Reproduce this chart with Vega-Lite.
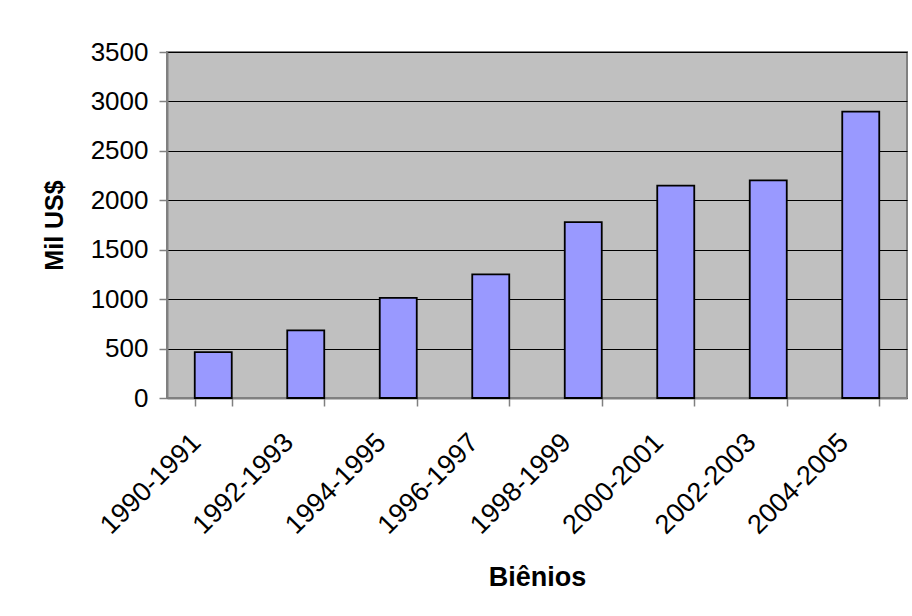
{
  "$schema": "https://vega.github.io/schema/vega-lite/v6.json",
  "width": 740,
  "height": 346,
  "autosize": "none",
  "padding": {"left": 167, "top": 52, "right": 5, "bottom": 218},
  "background": "white",
  "config": {
    "font": "Liberation Sans",
    "view": {"fill": "#C0C0C0", "stroke": "#808080", "strokeWidth": 2}
  },
  "data": {
    "values": [
      {"bienio": "1990-1991", "valor": 465},
      {"bienio": "1992-1993", "valor": 684},
      {"bienio": "1994-1995", "valor": 1012},
      {"bienio": "1996-1997", "valor": 1250},
      {"bienio": "1998-1999", "valor": 1780},
      {"bienio": "2000-2001", "valor": 2148},
      {"bienio": "2002-2003", "valor": 2201},
      {"bienio": "2004-2005", "valor": 2896}
    ]
  },
  "mark": {"type": "bar", "fill": "#9999FF", "stroke": "#000000", "strokeWidth": 1.8},
  "encoding": {
    "x": {
      "field": "bienio",
      "type": "nominal",
      "sort": null,
      "scale": {"paddingInner": 0.6, "paddingOuter": 0.3},
      "axis": {
        "title": "Biênios",
        "titleFont": "Liberation Sans",
        "titleFontSize": 27,
        "titleFontWeight": "bold",
        "titleColor": "#000000",
        "titleY": 187,
        "titleBaseline": "alphabetic",
        "labelAngle": -45,
        "labelAlign": "right",
        "labelBaseline": "middle",
        "labelFontSize": 27,
        "labelColor": "#000000",
        "labelOffset": -17,
        "labelPadding": 32,
        "tickBand": "extent",
        "tickSize": 8,
        "tickColor": "#808080",
        "tickWidth": 1.5,
        "domainColor": "#808080",
        "domainWidth": 2,
        "grid": false
      }
    },
    "y": {
      "field": "valor",
      "type": "quantitative",
      "scale": {"domain": [0, 3500], "nice": false},
      "axis": {
        "title": "Mil US$",
        "titleFont": "Liberation Sans",
        "titleFontSize": 25,
        "titleFontWeight": "bold",
        "titleColor": "#000000",
        "titleAngle": -90,
        "titleAlign": "center",
        "titleBaseline": "alphabetic",
        "titleX": -105,
        "titleY": 173,
        "values": [0, 500, 1000, 1500, 2000, 2500, 3000, 3500],
        "format": "d",
        "labelFontSize": 26,
        "labelColor": "#000000",
        "labelPadding": 11,
        "tickSize": 8,
        "tickColor": "#808080",
        "tickWidth": 1.5,
        "domainColor": "#808080",
        "domainWidth": 2,
        "grid": true,
        "gridColor": "#000000",
        "gridWidth": 1,
        "gridOpacity": 1
      }
    }
  }
}
